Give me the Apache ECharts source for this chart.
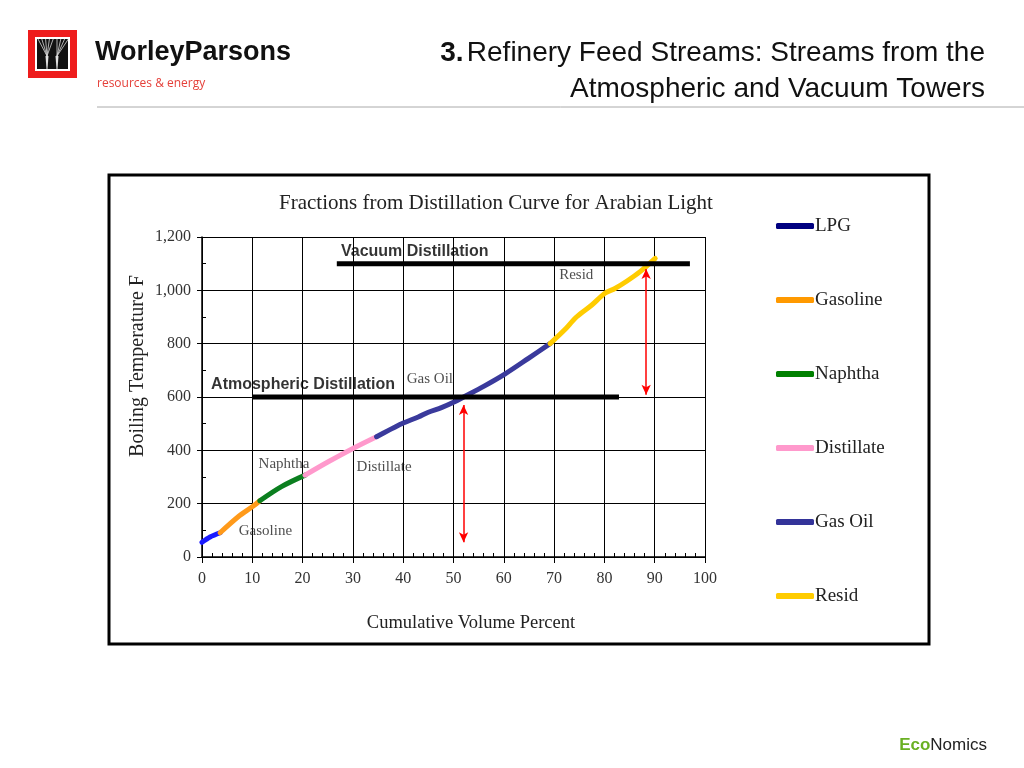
<!DOCTYPE html>
<html>
<head>
<meta charset="utf-8">
<script src="https://cdn.jsdelivr.net/npm/echarts@6/dist/echarts.min.js"></script>
<style>html,body{margin:0;padding:0;background:#fff;}#c{width:1024px;height:768px;}</style>
</head>
<body>
<div id="c"></div>
<script>
// ---- data ----
var seriesNames = ['LPG', 'Gasoline', 'Naphtha', 'Distillate', 'Gas Oil', 'Resid'];
var lpgData = [[0, 55], [1.6, 75], [3.6, 91]];
var gasolineData = [[3.6, 91], [7.2, 151], [10.2, 191], [11.5, 211]];
var naphthaData = [[11.5, 211], [15.8, 264], [20.5, 307]];
var distillateData = [[20.5, 307], [25.1, 357], [30.1, 408], [34.7, 451]];
var gasOilData = [[34.7, 451], [37, 474], [39.7, 500], [43, 525], [45, 543], [47.6, 560], [50, 580], [52, 600], [56, 640], [60.2, 686], [64.9, 745], [69.2, 800]];
var residData = [[69.2, 800], [72, 850], [74.5, 901], [77.5, 945], [80.1, 989], [82.1, 1007], [84.5, 1035], [87.1, 1070], [90.1, 1120]];
var atmosphericLine = [[10, 600], [82.9, 600]];
var vacuumLine = [[26.8, 1100], [97, 1100]];
var arrow1 = [[52, 570], [52, 55]];
var arrow2 = [[88.3, 1080], [88.3, 608]];
var annoText = ['Vacuum Distillation', 'Atmospheric Distillation', 'Gas Oil', 'Resid', 'Naphtha', 'Distillate', 'Gasoline'];
var annoX = [42.3, 20.1, 45.3, 74.4, 16.3, 36.2, 12.6];
var annoY = [1144, 645, 667, 1057, 349, 337, 97];
var annoBold = [true, true, false, false, false, false, false];
var xTicks = {min: 0, max: 100, interval: 10};
var yTicks = {min: 0, max: 1200, interval: 200};

var curveColors = ['#1a1aff', '#ff9a1a', '#0b7f1f', '#ff99cc', '#3a3a9c', '#ffcc00'];
var legendColors = ['#000080', '#ff9900', '#008000', '#ff99cc', '#333399', '#ffcc00'];
var curveData = [lpgData, gasolineData, naphthaData, distillateData, gasOilData, residData];

var serif = '"Liberation Serif", "Times New Roman", serif';
var sans = '"Liberation Sans", Arial, sans-serif';

var series = [];
seriesNames.forEach(function (n, i) {
  series.push({
    name: n, type: 'line', data: curveData[i], symbol: 'none', smooth: 0.3, z: 3,
    lineStyle: {color: curveColors[i], width: 5, cap: 'round', join: 'round'},
    itemStyle: {color: legendColors[i]}
  });
});
[atmosphericLine, vacuumLine].forEach(function (d) {
  series.push({
    type: 'line', data: d, symbol: 'none', z: 4, silent: true,
    lineStyle: {color: '#000', width: 5}
  });
});
series.push({
  type: 'line', data: [], silent: true,
  markLine: {
    silent: true, symbol: ['arrow', 'arrow'], symbolSize: [7, 10],
    label: {show: false},
    lineStyle: {color: '#ff0000', width: 1.5, type: 'solid'},
    data: [
      [{coord: arrow1[0]}, {coord: arrow1[1]}],
      [{coord: arrow2[0]}, {coord: arrow2[1]}]
    ]
  }
});
series.push({
  type: 'scatter', silent: true, symbolSize: 1, z: 6,
  itemStyle: {color: 'rgba(0,0,0,0)'},
  data: annoText.map(function (t, i) {
    return {
      value: [annoX[i], annoY[i]],
      label: {
        show: true, position: 'inside', formatter: t,
        fontFamily: annoBold[i] ? sans : serif,
        fontWeight: annoBold[i] ? 'bold' : 'normal',
        fontSize: annoBold[i] ? 16 : 15,
        color: annoBold[i] ? '#000' : '#222'
      }
    };
  })
});

// W logo fan lines
var fan = [];
for (var k = 0; k < 9; k++) {
  var tx = 38 + k * 3.8;
  var bx = k < 5 ? 47 : 57;
  fan.push({type: 'line', shape: {x1: tx, y1: 39, x2: bx, y2: 56}, style: {stroke: '#d8d8d8', lineWidth: 0.8}});
}

var chart = echarts.init(document.getElementById('c'));
chart.setOption({
  animation: false,
  backgroundColor: '#fff',
  grid: {left: 202, right: 319, top: 237, bottom: 211, containLabel: false},
  xAxis: {
    type: 'value', min: xTicks.min, max: xTicks.max, interval: xTicks.interval,
    axisLine: {show: true, onZero: false, lineStyle: {color: '#000', width: 1.5}},
    axisTick: {show: true, length: 6, lineStyle: {color: '#000', width: 1}},
    minorTick: {show: true, splitNumber: 5, length: -4, lineStyle: {color: '#000', width: 1}},
    splitLine: {show: true, lineStyle: {color: '#000', width: 1}},
    axisLabel: {margin: 14, fontFamily: serif, fontSize: 16, color: '#333'}
  },
  yAxis: {
    type: 'value', min: yTicks.min, max: yTicks.max, interval: yTicks.interval,
    axisLine: {show: true, lineStyle: {color: '#000', width: 1.5}},
    axisTick: {show: true, length: 5, lineStyle: {color: '#000', width: 1}},
    minorTick: {show: true, splitNumber: 2, length: -4, lineStyle: {color: '#000', width: 1}},
    splitLine: {show: true, lineStyle: {color: '#000', width: 1}},
    axisLabel: {
      margin: 11, fontFamily: serif, fontSize: 16, color: '#333',
      formatter: function (v) { return v.toLocaleString('en-US'); }
    }
  },
  legend: {
    orient: 'vertical', left: 771, top: 211,
    itemWidth: 38, itemHeight: 6, itemGap: 54, icon: 'roundRect',
    textStyle: {fontFamily: serif, fontSize: 19, color: '#222', lineHeight: 20, padding: [0, 0, 0, -4]},
    data: seriesNames.map(function (n, i) { return {name: n, itemStyle: {color: legendColors[i]}}; })
  },
  series: series,
  graphic: [
    // chart box
    {type: 'rect', shape: {x: 109, y: 175, width: 820, height: 469}, style: {fill: 'none', stroke: '#000', lineWidth: 3}, z: -1},
    // chart title
    {type: 'text', x: 496, y: 203, style: {text: 'Fractions from Distillation Curve for Arabian Light', font: '21px ' + serif, fill: '#222', align: 'center', verticalAlign: 'middle'}},
    // axis names
    {type: 'text', x: 138, y: 366, rotation: Math.PI / 2, style: {text: 'Boiling Temperature F', font: '20px ' + serif, fill: '#222', align: 'center', verticalAlign: 'middle'}},
    {type: 'text', x: 471, y: 623, style: {text: 'Cumulative Volume Percent', font: '18.5px ' + serif, fill: '#222', align: 'center', verticalAlign: 'middle'}},
    // header logo
    {type: 'rect', shape: {x: 28, y: 30, width: 49, height: 48}, style: {fill: '#ee1c1c'}},
    {type: 'rect', shape: {x: 35, y: 37, width: 35, height: 34}, style: {fill: '#fff'}},
    {type: 'rect', shape: {x: 37, y: 39, width: 31, height: 30}, style: {fill: '#111'}},
    {type: 'group', children: fan.concat([
      {type: 'polygon', shape: {points: [[45.5, 56], [48.5, 56], [47.5, 69], [46.5, 69]]}, style: {fill: '#e0e0e0'}},
      {type: 'polygon', shape: {points: [[55.5, 56], [58.5, 56], [57.5, 69], [56.5, 69]]}, style: {fill: '#e0e0e0'}}
    ])},
    {type: 'text', x: 95, y: 53, style: {text: 'WorleyParsons', font: 'bold 27px ' + sans, fill: '#111', verticalAlign: 'middle'}},
    {type: 'text', x: 97, y: 84, style: {text: 'resources & energy', font: '12px "Open Sans", ' + sans, fill: '#e5403a', verticalAlign: 'middle'}},
    // title
    {type: 'text', x: 985, y: 53, style: {
      text: '{b|3.} {n|Refinery Feed Streams: Streams from the}', align: 'right', verticalAlign: 'middle',
      rich: {b: {font: 'bold 28px ' + sans, fill: '#111'}, n: {font: '28px ' + sans, fill: '#111'}}
    }},
    {type: 'text', x: 985, y: 89, style: {text: 'Atmospheric and Vacuum Towers', font: '28px ' + sans, fill: '#111', align: 'right', verticalAlign: 'middle'}},
    {type: 'line', shape: {x1: 97, y1: 107, x2: 1024, y2: 107}, style: {stroke: '#aaaaaa', lineWidth: 1}},
    // footer
    {type: 'text', x: 987, y: 745, style: {
      text: '{g|Eco}{d|Nomics}', align: 'right', verticalAlign: 'middle',
      rich: {g: {font: 'bold 17px ' + sans, fill: '#6ab023'}, d: {font: '17px ' + sans, fill: '#222'}}
    }}
  ]
});
</script>
</body>
</html>
